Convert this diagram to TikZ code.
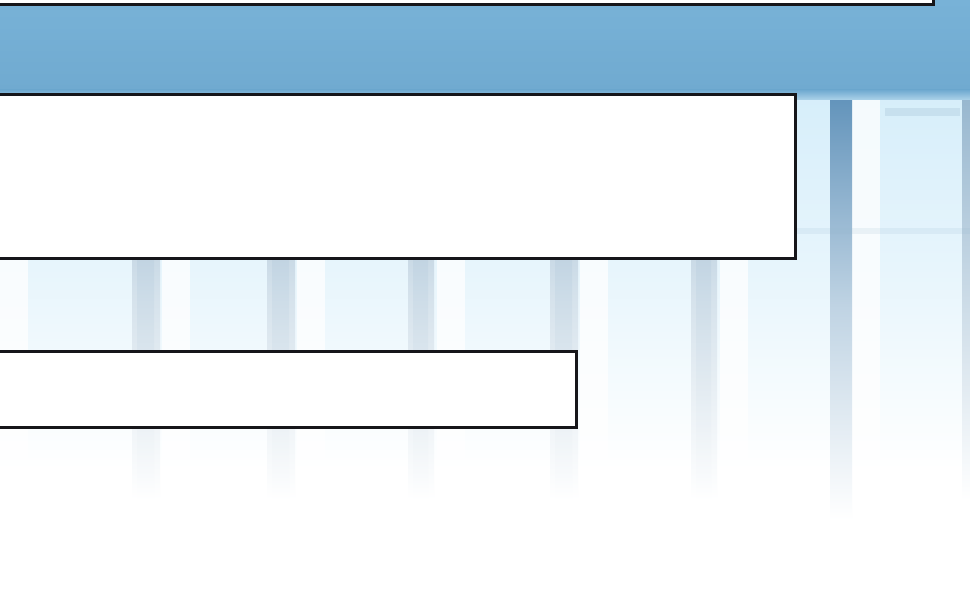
\documentclass[tikz,border=0pt]{standalone}
\usetikzlibrary{positioning}
\definecolor{bandtop}{RGB}{120,178,215}
\definecolor{bandbot}{RGB}{112,170,208}
\definecolor{pane}{RGB}{214,238,250}
\definecolor{barcol}{RGB}{150,182,206}
\definecolor{bardark}{RGB}{96,146,186}
\definecolor{edge}{RGB}{22,22,26}
\tikzset{
  panel/.style={draw=edge, line width=3pt, fill=white, inner sep=0pt, outer sep=0pt},
  wincol/.style={fill=white, opacity=0.75}
}
\begin{document}
\begin{tikzpicture}[x=1pt,y=-1pt]
\useasboundingbox (0,0) rectangle (970,602);
\clip (0,0) rectangle (970,602);
\fill[white] (0,0) rectangle (970,602);
% window panes fading to white
\shade[top color=pane, bottom color=white, middle color=pane!55!white] (0,92) rectangle (970,470);
% light columns beside the bars
\foreach \x in {0,162,297,437,580,720,852}{
  \fill[wincol] (\x,92) rectangle (\x+28,480);
}
% vertical bars
\foreach \x/\w in {132/28,267/28,408/26,550/28,691/26}{
  \shade[top color=barcol, bottom color=white, middle color=barcol!40!white] (\x,92) rectangle (\x+\w,500);
  \shade[top color=barcol!80!bardark, bottom color=white, opacity=0.5] (\x+5,92) rectangle (\x+\w-6,500);
}
\shade[top color=bardark, bottom color=white, middle color=bardark!40!white] (830,92) rectangle (852,520);
\shade[top color=barcol, bottom color=white] (962,92) rectangle (970,500);
% faint horizontal frame lines at the right
\fill[barcol, opacity=0.25] (885,108) rectangle (960,116);
\fill[barcol, opacity=0.15] (795,228) rectangle (970,234);
% blue band
\shade[top color=bandtop, bottom color=bandbot] (0,0) rectangle (970,90);
\shade[top color=bandbot, bottom color=bandbot!40!pane] (0,90) rectangle (970,100);
% panels
\node[panel, anchor=south east, minimum width=950pt, minimum height=30pt] (p1) at (933,5) {};
\node[panel, anchor=north east, minimum width=815pt, minimum height=163pt] (p2) at (795,95) {};
\node[panel, anchor=north east, minimum width=596pt, minimum height=76pt] (p3) at (576,351) {};
\end{tikzpicture}
\end{document}
